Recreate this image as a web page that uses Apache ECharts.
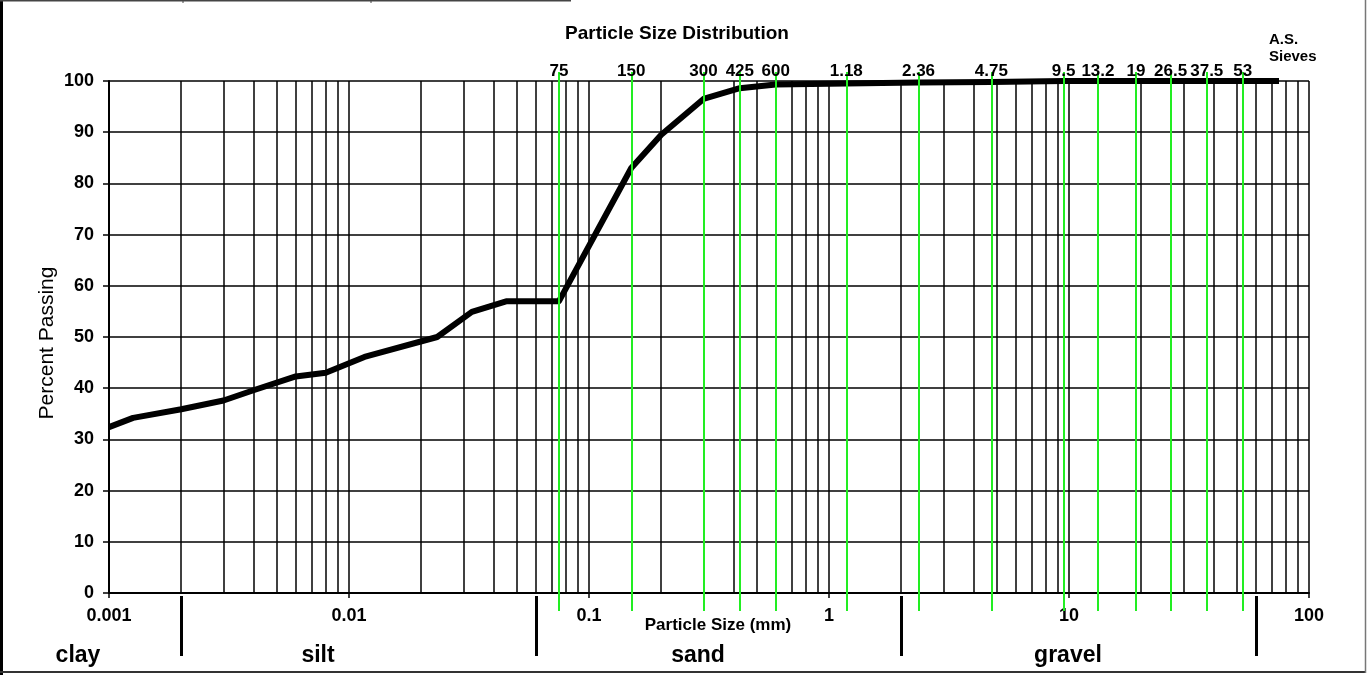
<!DOCTYPE html>
<html>
<head>
<meta charset="utf-8">
<title>Particle Size Distribution</title>
<script src="https://cdn.jsdelivr.net/npm/echarts@6/dist/echarts.min.js"></script>
<style>
  html, body { margin: 0; padding: 0; background: #fff; }
  #chart { width: 1368px; height: 675px; }
</style>
</head>
<body>
<div id="chart"></div>
<script>
// grading curve, particle size in mm vs percent passing
const sizes = [0.001, 0.00126, 0.002, 0.003, 0.004, 0.006, 0.008, 0.0116, 0.0233, 0.0325, 0.0455, 0.075, 0.15, 0.2, 0.3, 0.425, 0.6, 1.18, 2.36, 4.75, 9.5, 75];
const passing = [32.4, 34.2, 35.9, 37.6, 39.6, 42.3, 43, 46.1, 50, 54.9, 57, 57, 83, 89.5, 96.5, 98.6, 99.3, 99.5, 99.7, 99.8, 100, 100];

// A.S. sieve sizes (mm) and their labels
const sieveSizes = [0.075, 0.15, 0.3, 0.425, 0.6, 1.18, 2.36, 4.75, 9.5, 13.2, 19, 26.5, 37.5, 53];
const sieveLabels = ['75', '150', '300', '425', '600', '1.18', '2.36', '4.75', '9.5', '13.2', '19', '26.5', '37.5', '53'];

// soil class boundaries (mm)
const classBounds = [0.002, 0.06, 2, 60];

// minor log grid lines inside each decade
const decades = [0.001, 0.01, 0.1, 1, 10];
const minorSteps = [2, 3, 4, 5, 6, 7, 8, 9];
const minorGrid = [];
decades.forEach(d => minorSteps.forEach(s => minorGrid.push(+(d * s).toPrecision(3))));

const FONT = 'Liberation Sans, Arial, sans-serif';

const chart = echarts.init(document.getElementById('chart'));

const hiddenLog = (idx) => ({
  type: 'log', logBase: 10, min: 0.001, max: 100, gridIndex: idx, show: false
});
const hiddenVal = (idx) => ({
  type: 'value', min: 0, max: 1, gridIndex: idx, show: false
});

// vertical segment from y0 to y1 at x
const vLine = (x, y0, y1, name) => ({ name: name || '', coords: [[x, y0], [x, y1]] });

const option = {
  animation: false,
  backgroundColor: '#fff',
  grid: [
    { left: 109, right: 59, top: 81, bottom: 82 },
    { left: 109, right: 59, top: 72, bottom: 64 },
    { left: 109, right: 59, top: 596, bottom: 19 }
  ],
  xAxis: [
    {
      type: 'log',
      logBase: 10,
      min: 0.001,
      max: 100,
      gridIndex: 0,
      axisLine: { lineStyle: { color: '#000', width: 2 } },
      axisTick: { show: true, length: 5, lineStyle: { color: '#000', width: 1.5 } },
      axisLabel: { color: '#000', fontFamily: FONT, fontSize: 18, fontWeight: 'bold', margin: 14 },
      splitLine: { show: true, lineStyle: { color: '#000', width: 1.5 } }
    },
    hiddenLog(1),
    hiddenLog(2)
  ],
  yAxis: [
    {
      type: 'value',
      min: 0,
      max: 100,
      interval: 10,
      gridIndex: 0,
      axisLine: { show: true, lineStyle: { color: '#000', width: 2 } },
      axisTick: { show: true, length: 6, lineStyle: { color: '#000', width: 1.5 } },
      axisLabel: { color: '#000', fontFamily: FONT, fontSize: 18, fontWeight: 'bold', margin: 15 },
      splitLine: { show: true, lineStyle: { color: '#000', width: 1.5 } }
    },
    hiddenVal(1),
    hiddenVal(2)
  ],
  series: [
    {
      name: 'minor grid',
      type: 'lines',
      coordinateSystem: 'cartesian2d',
      xAxisIndex: 0,
      yAxisIndex: 0,
      silent: true,
      z: 1,
      lineStyle: { color: '#000', width: 1.5, opacity: 1 },
      data: minorGrid.map(v => vLine(v, 0, 100))
    },
    {
      name: 'Percent Passing',
      type: 'line',
      xAxisIndex: 0,
      yAxisIndex: 0,
      data: sizes.map((s, i) => [s, passing[i]]),
      showSymbol: false,
      symbol: 'none',
      lineStyle: { color: '#000', width: 6, join: 'round' },
      z: 3
    },
    {
      name: 'sieves',
      type: 'lines',
      coordinateSystem: 'cartesian2d',
      xAxisIndex: 1,
      yAxisIndex: 1,
      silent: true,
      clip: false,
      z: 5,
      lineStyle: { color: '#22ee22', width: 2, opacity: 1 },
      label: {
        show: true,
        position: 'end',
        distance: -8,
        color: '#000',
        fontFamily: FONT,
        fontSize: 17,
        fontWeight: 'bold',
        formatter: p => p.name
      },
      data: sieveSizes.map((v, i) => vLine(v, 0, 1, sieveLabels[i]))
    },
    {
      name: 'soil classes',
      type: 'lines',
      coordinateSystem: 'cartesian2d',
      xAxisIndex: 2,
      yAxisIndex: 2,
      silent: true,
      clip: false,
      lineStyle: { color: '#000', width: 3, opacity: 1 },
      data: classBounds.map(v => vLine(v, 0, 1))
    }
  ],
  graphic: [
    // frame round the picture
    { type: 'line', shape: { x1: 1.5, y1: 0, x2: 1.5, y2: 675 }, style: { stroke: '#000', lineWidth: 3 } },
    { type: 'line', shape: { x1: 0, y1: 672, x2: 1366, y2: 672 }, style: { stroke: '#333', lineWidth: 2 } },
    { type: 'line', shape: { x1: 1365.5, y1: 0, x2: 1365.5, y2: 673 }, style: { stroke: '#777', lineWidth: 1.5 } },
    { type: 'line', shape: { x1: 0, y1: 0.75, x2: 571, y2: 0.75 }, style: { stroke: '#444', lineWidth: 1.5 } },
    { type: 'line', shape: { x1: 183, y1: 0, x2: 183, y2: 3 }, style: { stroke: '#444', lineWidth: 1 } },
    { type: 'line', shape: { x1: 371, y1: 0, x2: 371, y2: 3 }, style: { stroke: '#444', lineWidth: 1 } },
    {
      type: 'text', x: 677, y: 34,
      style: { text: 'Particle Size Distribution', fill: '#000', font: 'bold 19px ' + FONT, textAlign: 'center', textVerticalAlign: 'middle' }
    },
    {
      type: 'text', x: 1269, y: 40,
      style: { text: 'A.S.', fill: '#000', font: 'bold 15px ' + FONT, textAlign: 'left', textVerticalAlign: 'middle' }
    },
    {
      type: 'text', x: 1269, y: 57,
      style: { text: 'Sieves', fill: '#000', font: 'bold 15px ' + FONT, textAlign: 'left', textVerticalAlign: 'middle' }
    },
    {
      type: 'text', x: 47, y: 343, rotation: Math.PI / 2,
      style: { text: 'Percent Passing', fill: '#000', font: '21px ' + FONT, textAlign: 'center', textVerticalAlign: 'middle' }
    },
    {
      type: 'text', x: 718, y: 625,
      style: { text: 'Particle Size (mm)', fill: '#000', font: 'bold 17px ' + FONT, textAlign: 'center', textVerticalAlign: 'middle' }
    },
    { type: 'text', x: 78, y: 656, style: { text: 'clay', fill: '#000', font: 'bold 23px ' + FONT, textAlign: 'center', textVerticalAlign: 'middle' } },
    { type: 'text', x: 318, y: 656, style: { text: 'silt', fill: '#000', font: 'bold 23px ' + FONT, textAlign: 'center', textVerticalAlign: 'middle' } },
    { type: 'text', x: 698, y: 656, style: { text: 'sand', fill: '#000', font: 'bold 23px ' + FONT, textAlign: 'center', textVerticalAlign: 'middle' } },
    { type: 'text', x: 1068, y: 656, style: { text: 'gravel', fill: '#000', font: 'bold 23px ' + FONT, textAlign: 'center', textVerticalAlign: 'middle' } }
  ]
};

chart.setOption(option);
</script>
</body>
</html>
